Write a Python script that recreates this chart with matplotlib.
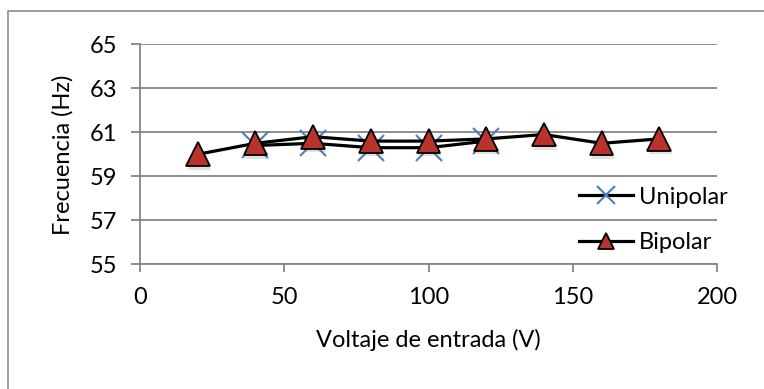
import matplotlib
matplotlib.use("Agg")
import matplotlib.pyplot as plt
import matplotlib.patheffects as pe
from matplotlib.patches import Rectangle

# ---- data ----
voltaje_uni = [40, 60, 80, 100, 120]
unipolar = [60.4, 60.5, 60.3, 60.3, 60.6]
voltaje_bi = [20, 40, 60, 80, 100, 120, 140, 160, 180]
bipolar = [60.0, 60.5, 60.8, 60.6, 60.6, 60.7, 60.9, 60.5, 60.7]
x_ticks = [0, 50, 100, 150, 200]
y_ticks = [55, 57, 59, 61, 63, 65]

plt.rcParams['font.family'] = ['Lato', 'DejaVu Sans']

fig = plt.figure(figsize=(7.64, 3.89), dpi=100)
fig.patch.set_facecolor('white')

# outer chart border
fig.patches.append(Rectangle((8 / 764, -0.1), 1.2, (389 - 10.7) / 389 + 0.1,
                             transform=fig.transFigure, fill=False,
                             edgecolor='#8c8c8c', linewidth=1.2))

ax = fig.add_axes([140 / 764, (389 - 264.3) / 389, 577 / 764, 220 / 389])

grid_c = '#868686'
ax.set_xlim(0, 200)
ax.set_ylim(55, 65)
ax.set_xticks(x_ticks)
ax.set_yticks(y_ticks)
ax.yaxis.grid(True, color=grid_c, linewidth=1.3)
ax.set_axisbelow(True)
for s in ['top', 'right']:
    ax.spines[s].set_visible(False)
for s in ['left', 'bottom']:
    ax.spines[s].set_color(grid_c)
    ax.spines[s].set_linewidth(1.3)
ax.tick_params(axis='both', colors=grid_c, labelcolor='black', width=1.3,
               labelsize=17)
ax.tick_params(axis='y', length=6.5, pad=10)
ax.tick_params(axis='x', length=6, pad=10)

shadow = [pe.SimplePatchShadow(offset=(1, -2.5), shadow_rgbFace='#777777', alpha=0.22),
          pe.Normal()]

ax.plot(voltaje_uni, unipolar, color='black', linewidth=2.3, marker='x',
        markersize=19, markeredgecolor='#4a7ebb', markeredgewidth=1.5,
        label='Unipolar', zorder=3)
ax.plot(voltaje_bi, bipolar, color='black', linewidth=2.3, zorder=4)
ax.plot(voltaje_bi, bipolar, linestyle='none', marker='^', markersize=17,
        markerfacecolor='#b9332d', markeredgecolor='black',
        markeredgewidth=1.3, zorder=5, path_effects=shadow)
# legend proxy for bipolar
ax.plot([], [], color='black', linewidth=2.3, marker='^', markersize=17,
        markerfacecolor='#b9332d', markeredgecolor='black',
        markeredgewidth=1.3, label='Bipolar')

ax.legend(loc='center left', bbox_to_anchor=(0.761, 0.2015), frameon=False,
          borderpad=0, borderaxespad=0, fontsize=17, handlelength=2.3,
          handletextpad=0.22, labelspacing=1.05, numpoints=1, markerscale=0.7)

ax.set_ylabel('Frecuencia (Hz)', fontsize=17)
ax.yaxis.set_label_coords((63 - 140) / 577, 0.497)
ax.set_xlabel('Voltaje de entrada (V)', fontsize=17)
ax.xaxis.set_label_coords(0.5, (264.3 - 340) / 219.9)
ax.xaxis.label.set_va('center')
ax.yaxis.label.set_va('center')

fig.savefig('out.png', dpi=100, facecolor='white')
